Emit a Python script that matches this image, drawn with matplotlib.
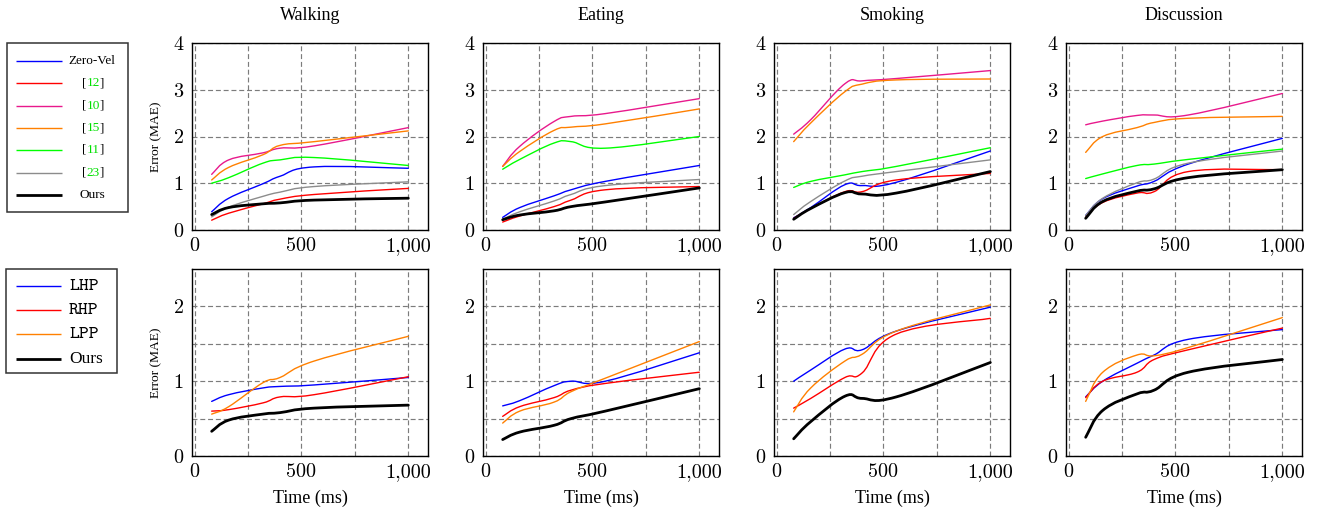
import numpy as np
import matplotlib
matplotlib.use("Agg")
import matplotlib.pyplot as plt
from matplotlib.path import Path
from matplotlib.patches import PathPatch, Rectangle

# ---------------- data ----------------
time_ms = [80, 160, 320, 400, 560, 1000]
actions = ["Walking", "Eating", "Smoking", "Discussion"]

# top row: comparison with baselines
zero_vel = {"Walking": [0.39, 0.68, 0.99, 1.15, 1.35, 1.32],
            "Eating": [0.27, 0.48, 0.73, 0.86, 1.04, 1.38],
            "Smoking": [0.26, 0.48, 0.97, 0.95, 1.02, 1.69],
            "Discussion": [0.31, 0.67, 0.94, 1.04, 1.41, 1.96]}
ref12 = {"Walking": [0.21, 0.36, 0.56, 0.66, 0.76, 0.89],
         "Eating": [0.17, 0.30, 0.50, 0.64, 0.86, 0.93],
         "Smoking": [0.25, 0.46, 0.82, 0.82, 1.07, 1.21],
         "Discussion": [0.27, 0.59, 0.79, 0.82, 1.25, 1.29]}
ref10 = {"Walking": [1.19, 1.50, 1.65, 1.75, 1.80, 2.19],
         "Eating": [1.36, 1.79, 2.32, 2.43, 2.49, 2.81],
         "Smoking": [2.05, 2.36, 3.13, 3.19, 3.24, 3.41],
         "Discussion": [2.25, 2.33, 2.45, 2.46, 2.46, 2.92]}
ref15 = {"Walking": [1.07, 1.34, 1.61, 1.81, 1.89, 2.12],
         "Eating": [1.36, 1.68, 2.13, 2.20, 2.27, 2.59],
         "Smoking": [1.89, 2.29, 2.96, 3.12, 3.21, 3.23],
         "Discussion": [1.66, 2.00, 2.19, 2.30, 2.39, 2.43]}
ref11 = {"Walking": [1.00, 1.12, 1.43, 1.50, 1.55, 1.38],
         "Eating": [1.30, 1.51, 1.86, 1.89, 1.75, 2.00],
         "Smoking": [0.91, 1.04, 1.18, 1.25, 1.36, 1.76],
         "Discussion": [1.10, 1.20, 1.38, 1.41, 1.51, 1.73]}
ref23 = {"Walking": [0.28, 0.49, 0.72, 0.81, 0.93, 1.03],
         "Eating": [0.23, 0.39, 0.62, 0.76, 0.95, 1.08],
         "Smoking": [0.33, 0.61, 1.05, 1.15, 1.25, 1.50],
         "Discussion": [0.31, 0.68, 1.01, 1.09, 1.43, 1.69]}
ours = {"Walking": [0.33, 0.48, 0.56, 0.58, 0.64, 0.68],
        "Eating": [0.22, 0.32, 0.41, 0.50, 0.60, 0.90],
        "Smoking": [0.23, 0.46, 0.80, 0.77, 0.79, 1.25],
        "Discussion": [0.25, 0.61, 0.83, 0.88, 1.12, 1.29]}

# bottom row: ablation
lhp = {"Walking": [0.73, 0.82, 0.91, 0.93, 0.95, 1.05],
       "Eating": [0.67, 0.74, 0.94, 1.00, 1.00, 1.38],
       "Smoking": [1.00, 1.15, 1.43, 1.42, 1.67, 1.99],
       "Discussion": [0.79, 1.00, 1.24, 1.35, 1.56, 1.69]}
rhp = {"Walking": [0.60, 0.62, 0.71, 0.79, 0.82, 1.06],
       "Eating": [0.53, 0.66, 0.78, 0.88, 0.97, 1.12],
       "Smoking": [0.64, 0.77, 1.05, 1.11, 1.63, 1.84],
       "Discussion": [0.78, 1.00, 1.12, 1.29, 1.42, 1.71]}
lpp = {"Walking": [0.56, 0.66, 0.98, 1.05, 1.27, 1.60],
       "Eating": [0.44, 0.60, 0.72, 0.86, 1.04, 1.53],
       "Smoking": [0.59, 0.91, 1.27, 1.36, 1.67, 2.02],
       "Discussion": [0.73, 1.12, 1.35, 1.34, 1.45, 1.85]}

top_labels = ["Zero-Vel", "[12]", "[10]", "[15]", "[11]", "[23]", "Ours"]
bottom_labels = ["LHP", "RHP", "LPP", "Ours"]
x_ticks = [0, 500, 1000]
x_tick_labels = ["0", "500", "1,000"]
top_y_ticks = [0, 1, 2, 3, 4]
bottom_y_ticks = [0, 1, 2]

# ---------------- style ----------------
C_BLUE = "#0000ff"
C_RED = "#ff0000"
C_MAG = "#e8198c"
C_ORG = "#ff8000"
C_GRN = "#00ff00"
C_GRY = "#8c8c8c"
C_BLK = "#000000"

top_series = [(zero_vel, C_BLUE, 1.0), (ref12, C_RED, 1.0), (ref10, C_MAG, 1.0),
              (ref15, C_ORG, 1.0), (ref11, C_GRN, 1.0), (ref23, C_GRY, 1.0),
              (ours, C_BLK, 2.0)]
bottom_series = [(lhp, C_BLUE, 1.0), (rhp, C_RED, 1.0), (lpp, C_ORG, 1.0),
                 (ours, C_BLK, 2.0)]

SERIF = "Liberation Serif"
TICKFONT = "cmr10"
MONO = "cmtt10"

W, H = 1317, 509
fig = plt.figure(figsize=(W / 100, H / 100), dpi=100)


def smooth_path(x, y, k=0.2):
    pts = np.column_stack([np.asarray(x, float), np.asarray(y, float)])
    n = len(pts)
    verts = [pts[0]]
    codes = [Path.MOVETO]
    for i in range(n - 1):
        p0, p1 = pts[i], pts[i + 1]
        d0 = (pts[i + 1] - pts[i - 1]) if i > 0 else (pts[1] - pts[0])
        d1 = (pts[i + 2] - pts[i]) if i + 2 < n else (pts[n - 1] - pts[n - 2])
        verts += [p0 + k * d0, p1 - k * d1, p1]
        codes += [Path.CURVE4] * 3
    return Path(verts, codes)


def px_axes(left, top, width, height):
    return fig.add_axes([left / W, 1 - (top + height) / H, width / W, height / H])


lefts = [192, 483, 774, 1066]
AX_W = 236
AX_H = 187
rows = [(43, top_series, 4.0, top_y_ticks, []),
        (269, bottom_series, 2.5, bottom_y_ticks, [0.5, 1.5])]

for r, (top, series, ymax, yt, yminor) in enumerate(rows):
    for c, act in enumerate(actions):
        ax = px_axes(lefts[c], top, AX_W, AX_H)
        ax.set_xlim(-12, 1092)
        ax.set_ylim(0, ymax)
        ax.set_xticks(x_ticks)
        ax.set_xticklabels(x_tick_labels)
        ax.set_xticks([250, 750], minor=True)
        ax.set_yticks(yt)
        ax.set_yticklabels([str(v) for v in yt])
        ax.set_yticks(yminor, minor=True)
        ax.tick_params(which="both", length=0)
        ax.tick_params(axis="x", pad=5)
        ax.tick_params(axis="y", pad=6)
        for lab in ax.get_xticklabels() + ax.get_yticklabels():
            lab.set_fontfamily(TICKFONT)
            lab.set_fontsize(14.5)
        ax.grid(True, which="both", color="#7c7c7c", linewidth=0.85,
                linestyle=(0, (4.2, 2.4)), zorder=0)
        ax.set_axisbelow(True)
        for sp in ax.spines.values():
            sp.set_linewidth(1.0)
            sp.set_color("black")
        for data, col, lw in series:
            patch = PathPatch(smooth_path(time_ms, data[act]), facecolor="none",
                              edgecolor=col, linewidth=lw, zorder=3,
                              capstyle="round", joinstyle="round")
            ax.add_patch(patch)
        if r == 0:
            ax.text(0.5, 1 + 28 / AX_H, act, transform=ax.transAxes,
                    ha="center", va="center", fontfamily=SERIF, fontsize=13)
        if c == 0:
            ax.set_ylabel("Error (MAE)", fontfamily=SERIF, fontsize=9.7,
                          va="center")
            ax.yaxis.set_label_coords(-36 / AX_W, 0.5)
        if r == 1:
            ax.set_xlabel("Time (ms)", fontfamily=SERIF, fontsize=13,
                          va="center")
            ax.xaxis.set_label_coords(0.5, -42 / AX_H)

# ---------------- legends (drawn in pixel coordinates) ----------------
lg = fig.add_axes([0, 0, 1, 1], zorder=5)
lg.set_xlim(0, W)
lg.set_ylim(H, 0)
lg.axis("off")

lg.add_patch(Rectangle((7, 43), 121, 169, facecolor="white", edgecolor="#333333",
                       linewidth=1.1))
top_rows = [61, 83, 105.5, 128, 150, 172.5, 195]
for (data, col, lw), lab, yy in zip(top_series, top_labels, top_rows):
    lg.plot([16, 62], [yy, yy], color=col, linewidth=lw, solid_capstyle="butt")
    if lab.startswith("["):
        t1 = lg.text(82, yy, "[", ha="left", va="center", fontfamily=SERIF,
                     fontsize=9.5, color="black")
        t2 = lg.annotate(lab[1:-1], xy=(1, 0), xycoords=t1, ha="left", va="bottom",
                         fontfamily=SERIF, fontsize=9.5, color="#00e000")
        lg.annotate("]", xy=(1, 0), xycoords=t2, ha="left", va="bottom",
                    fontfamily=SERIF, fontsize=9.5, color="black")
    else:
        lg.text(92, yy, lab, ha="center", va="center", fontfamily=SERIF,
                fontsize=9.5, color="black")

lg.add_patch(Rectangle((6, 269), 111, 104, facecolor="white", edgecolor="#333333",
                       linewidth=1.1))
bot_rows = [286, 310, 334, 359]
for (data, col, lw), lab, yy in zip(bottom_series, bottom_labels, bot_rows):
    lg.plot([16, 61], [yy, yy], color=col, linewidth=lw, solid_capstyle="butt")
    if lab == "Ours":
        lg.text(69, yy, lab, ha="left", va="center", fontfamily=SERIF,
                fontsize=12.5, color="black")
    else:
        lg.text(69, yy, lab, ha="left", va="center", fontfamily=MONO,
                fontsize=13.5, color="black")

fig.savefig("out.png", dpi=100)
